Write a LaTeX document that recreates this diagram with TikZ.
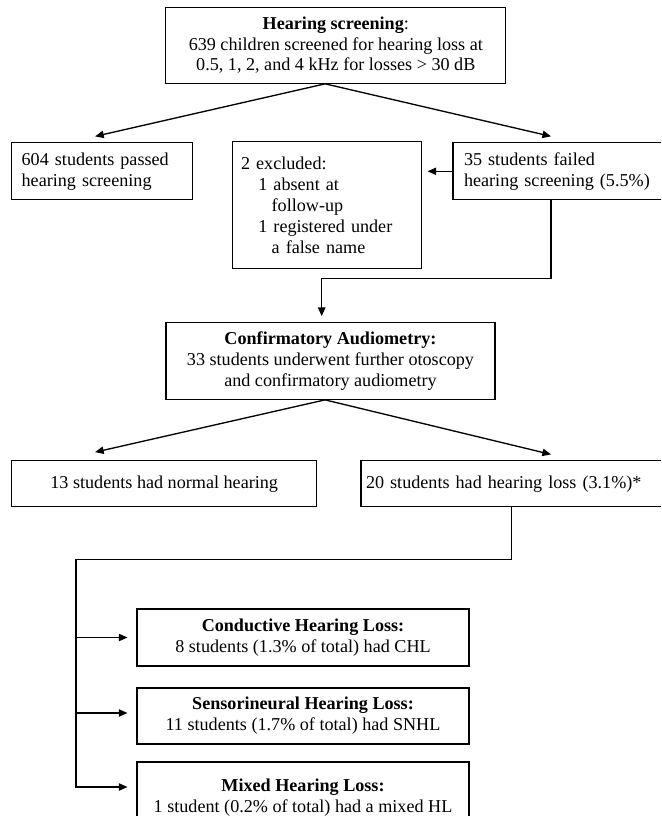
\documentclass[tikz,border=0pt]{standalone}
\usepackage{fontspec}
\setmainfont{Liberation Serif}
\usetikzlibrary{arrows.meta,calc}

\begin{document}
\begin{tikzpicture}[
  x=0.75pt, y=-0.75pt,
  box/.style={draw, rectangle, line width=0.8pt, inner sep=0pt, align=center,
              font=\fontsize{13.6}{15.6}\selectfont},
  lbox/.style={box, align=left},
  line/.style={-, line width=1pt},
  arr/.style={line, -{Triangle[length=6.5pt,width=5.5pt]}}
]
  \useasboundingbox (0,0) rectangle (661,816);
  \clip (0,0) rectangle (661,816);

  % screening stage
  \node[box, minimum width=255pt, minimum height=57pt] (screen) at (335.8,45.3)
    {\textbf{Hearing screening}:\\639 children screened for hearing loss at\\0.5, 1, 2, and 4 kHz for losses > 30 dB};
  \node[lbox, text width=120.5pt, inner xsep=7.5pt, minimum height=43pt] (passed) at (102,171.3)
    {604 students passed\\hearing screening};
  \node[lbox, text width=128.5pt, inner xsep=6.5pt, minimum height=95pt] (excl) at (326.7,205.3)
    {2 excluded:\\\hspace*{13pt}1 absent at\\\hspace*{23pt}follow-up\\\hspace*{13pt}1 registered under\\\hspace*{23pt}a false name};
  \node[lbox, text width=147.75pt, inner xsep=8.25pt, minimum height=43pt] (failed) at (562.5,171.3)
    {35 students failed\\hearing screening (5.5\%)};

  % audiometry stage
  \node[box, minimum width=246.75pt, minimum height=57.5pt] (confirm) at (330.5,361)
    {\textbf{Confirmatory Audiometry:}\\33 students underwent further otoscopy\\and confirmatory audiometry};
  \node[box, minimum width=228.75pt, minimum height=34.5pt] (normal) at (164.2,483.7)
    {13 students had normal hearing};
  \node[lbox, text width=225.75pt, inner xsep=3.75pt, minimum height=34.5pt] (hl) at (516.5,483.7)
    {20 students had hearing loss (3.1\%)*};

  % type of loss
  \node[box, minimum width=249pt, minimum height=42.75pt] (chl) at (303,637.5)
    {\textbf{Conductive Hearing Loss:}\\8 students (1.3\% of total) had CHL};
  \node[box, minimum width=249pt, minimum height=42pt] (snhl) at (303,716)
    {\textbf{Sensorineural Hearing Loss:}\\11 students (1.7\% of total) had SNHL};
  \node[box, minimum width=249pt, minimum height=54pt] (mixed) at (303,798)
    {\textbf{Mixed Hearing Loss:}\\1 student (0.2\% of total) had a mixed HL};

  \coordinate (bus) at (76,559.3);

  % screening arrows
  \draw[arr] ([xshift=-8pt]screen.south) -- ([xshift=-5.2pt,yshift=4.3pt]passed.north);
  \draw[arr] ([xshift=-8pt]screen.south) -- ([xshift=-8.6pt,yshift=4.3pt]failed.north);
  \draw[arr, shorten >=4.5pt] (failed.west) -- (failed.west -| excl.east);
  \draw[arr] ([xshift=-8.6pt]failed.south) -- ++(0,78.3) -| ([xshift=-6.6pt,yshift=4.5pt]confirm.north);
  % audiometry arrows
  \draw[arr] ([xshift=-4.1pt]confirm.south) -- ([xshift=-51.9pt,yshift=6pt]normal.north);
  \draw[arr] ([xshift=-4.1pt]confirm.south) -- ([xshift=25.9pt,yshift=4.3pt]hl.north);
  % branches
  \draw[arr] ([xshift=-3.6pt]hl.south) |- (bus) |- ([xshift=-6.75pt,yshift=8.25pt]mixed.west);
  \draw[arr] (bus |- chl.west) -- ([xshift=-6.75pt]chl.west);
  \draw[arr] ([yshift=2.25pt]bus |- snhl.west) -- ([xshift=-6.75pt,yshift=2.25pt]snhl.west);

\end{tikzpicture}
\end{document}
